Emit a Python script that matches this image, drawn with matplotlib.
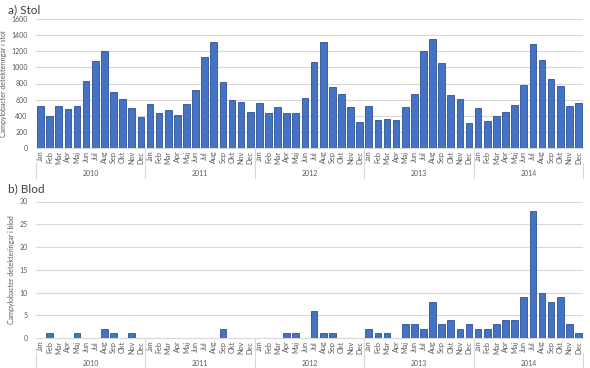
import numpy as np
import matplotlib
matplotlib.use('Agg')
import matplotlib.pyplot as plt
import matplotlib.transforms as mtransforms

plt.rcParams['font.family'] = ['Lato', 'DejaVu Sans']

months = ['Jan', 'Feb', 'Mar', 'Apr', 'Maj', 'Jun', 'Jul', 'Aug', 'Sep', 'Okt', 'Nov', 'Dec']
years = ['2010', '2011', '2012', '2013', '2014']

# detekteringar i stol, per månad 2010-2014
stol_2010 = [525, 393, 525, 484, 517, 827, 1075, 1203, 695, 612, 500, 384]
stol_2011 = [541, 430, 471, 413, 550, 715, 1124, 1310, 814, 595, 570, 450]
stol_2012 = [562, 434, 508, 434, 432, 624, 1066, 1310, 752, 674, 504, 318]
stol_2013 = [521, 343, 360, 351, 508, 674, 1203, 1356, 1050, 653, 608, 310]
stol_2014 = [492, 339, 393, 442, 537, 781, 1294, 1091, 856, 765, 517, 554]

# detekteringar i blod
blod_2010 = [0, 1, 0, 0, 1, 0, 0, 2, 1, 0, 1, 0]
blod_2011 = [0, 0, 0, 0, 0, 0, 0, 0, 2, 0, 0, 0]
blod_2012 = [0, 0, 0, 1, 1, 0, 6, 1, 1, 0, 0, 0]
blod_2013 = [2, 1, 1, 0, 3, 3, 2, 8, 3, 4, 2, 3]
blod_2014 = [2, 2, 3, 4, 4, 9, 28, 10, 8, 9, 3, 1]

stol = stol_2010 + stol_2011 + stol_2012 + stol_2013 + stol_2014
blod = blod_2010 + blod_2011 + blod_2012 + blod_2013 + blod_2014

W, H = 590, 368
fig = plt.figure(figsize=(W / 100, H / 100), dpi=100)

bar_col = '#4472C4'
edge_col = '#2F528F'
txt_col = '#595959'
grid_col = '#D9D9D9'


def panel(rect, vals, ymax, ystep, title, ylabel, title_y):
    ax = fig.add_axes(rect)
    x = np.arange(len(vals))
    ax.bar(x, vals, width=0.73, color=bar_col, edgecolor=edge_col, linewidth=0.6, zorder=3)
    ax.set_xlim(-0.5, len(vals) - 0.5)
    ax.set_ylim(0, ymax)
    ax.set_yticks(np.arange(0, ymax + 1, ystep))
    ax.yaxis.grid(True, color=grid_col, linewidth=0.8, zorder=0)
    for s in ['top', 'right', 'left']:
        ax.spines[s].set_visible(False)
    ax.spines['bottom'].set_color(grid_col)
    ax.tick_params(axis='y', length=0, labelsize=5, labelcolor=txt_col, pad=6)
    ax.tick_params(axis='x', length=0, labelsize=5.2, labelcolor=txt_col, pad=2)
    ax.set_xticks(x)
    ax.set_xticklabels(months * len(years), rotation=90)
    ax.set_ylabel(ylabel, fontsize=5, color=txt_col, labelpad=3)

    # Excel-style year grouping under the month labels
    ax_h = rect[3] * H
    drop = 30 / ax_h
    trans = mtransforms.blended_transform_factory(ax.transData, ax.transAxes)
    for i in range(len(years) + 1):
        xs = i * 12 - 0.5
        top = 0 if 0 < i < len(years) else -15 / ax_h
        ax.plot([xs, xs], [top, -drop], color=grid_col, lw=0.8,
                transform=trans, clip_on=False)
    for i, yr in enumerate(years):
        ax.text(i * 12 + 5.5, -25 / ax_h, yr, transform=trans, ha='center',
                va='center', fontsize=5, color=txt_col)

    fig.text(8 / W, 1 - title_y / H, title, fontsize=8.5, color='#404040',
             ha='left', va='center')
    return ax


panel([36 / W, 1 - 148 / H, 547 / W, 129 / H], stol, 1600, 200,
      'a) Stol', 'Campylobacter detekteringar i stol', 10)
panel([36 / W, 1 - 338 / H, 547 / W, 136.5 / H], blod, 30, 5,
      'b) Blod', 'Campylobacter detekteringar i blod', 189)

fig.savefig('out.png', dpi=100)
